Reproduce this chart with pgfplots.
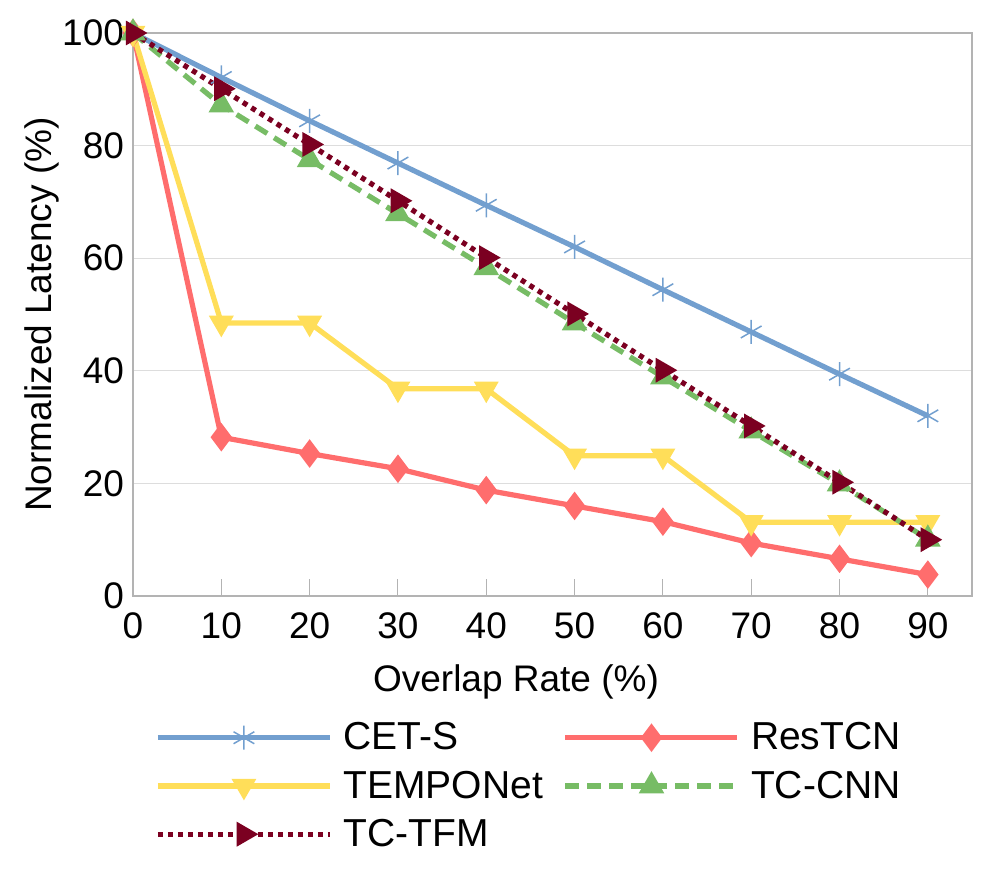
\documentclass[border=0pt]{standalone}
\usepackage{fontspec}
\setmainfont{Liberation Sans}
\usepackage{pgfplots}
\pgfplotsset{compat=1.18}
\definecolor{cets}{HTML}{729FCF}
\definecolor{restcn}{HTML}{FF6D6D}
\definecolor{tempo}{HTML}{FFDE59}
\definecolor{tccnn}{HTML}{77BC65}
\definecolor{tctfm}{HTML}{7B0021}
\definecolor{gridc}{HTML}{DDDDDD}
\definecolor{axc}{HTML}{B3B3B3}
\begin{document}
\begin{tikzpicture}
\useasboundingbox (-66.5pt,-145pt) rectangle (432pt,298pt);
\begin{axis}[
 at={(0,0)}, anchor=south west,
 scale only axis, width=419.5pt, height=281.5pt,
 xmin=0, xmax=95, ymin=0, ymax=100,
 xtick={0,10,...,90}, ytick={0,20,...,100},
 font=\fontsize{18.5}{22}\selectfont,
 /pgf/number format/assume math mode=true,
 ymajorgrids, grid style={gridc, line width=0.5pt},
 axis line style={axc, line width=0.75pt},
 xtick pos=left, tick align=inside, major tick length=8.5pt,
 xtick style={axc, line width=0.5pt},
 ytick style={draw=none},
 xticklabel style={yshift=-5pt},
 yticklabel style={xshift=-1pt},
 clip=false,
 xlabel={Overlap Rate (\%)}, ylabel={Normalized Latency (\%)},
 xlabel style={at={(axis description cs:0.4565,-0.152)}, anchor=center},
 ylabel style={at={(axis description cs:-0.108,0.5)}, anchor=center},
 legend columns=2,
 legend style={at={(axis description cs:0.019,-0.21)}, anchor=north west, draw=none, fill=none,
   font=\fontsize{19.5}{22}\selectfont, row sep=5pt,
   /tikz/every odd column/.append style={column sep=3.5pt},
   /tikz/every even column/.append style={column sep=8pt}},
 legend cell align=left,
 legend image code/.code={\draw[mark repeat=2,mark phase=2,#1] plot coordinates {(0pt,0pt)(43pt,0pt)(86pt,0pt)};},
]
\addplot[cets, line width=2.6pt, mark=asterisk, mark size=6pt, mark options={line width=0.75pt}]
 coordinates {(0,100)(10,92.1)(20,84.4)(30,76.9)(40,69.4)(50,62.0)(60,54.4)(70,46.9)(80,39.4)(90,32.0)};
\addlegendentry{CET-S}
\addplot[restcn, line width=2.6pt, mark=diamond*, mark size=5pt]
 coordinates {(0,100)(10,28.2)(20,25.3)(30,22.6)(40,18.8)(50,16.0)(60,13.2)(70,9.4)(80,6.6)(90,3.8)};
\addlegendentry{ResTCN}
\addplot[tempo, line width=2.6pt, mark=triangle*, mark size=4.6pt, mark options={rotate=180}]
 coordinates {(0,100)(10,48.5)(20,48.5)(30,36.8)(40,36.8)(50,24.9)(60,24.9)(70,13.1)(80,13.1)(90,13.1)};
\addlegendentry{TEMPONet}
\addplot[tccnn, line width=2.6pt, dash pattern=on 7pt off 4pt, mark=triangle*, mark size=4.8pt, mark options={solid}]
 coordinates {(0,100)(10,87.2)(20,77.5)(30,67.9)(40,58.3)(50,48.5)(60,38.9)(70,29.3)(80,19.9)(90,10.1)};
\addlegendentry{TC-CNN}
\addplot[tctfm, line width=2.6pt, dash pattern=on 2.5pt off 2.5pt, mark=triangle*, mark size=4.6pt, mark options={solid, rotate=-90}]
 coordinates {(0,100)(10,90.1)(20,80.2)(30,70.2)(40,60.1)(50,50.1)(60,40.1)(70,30.2)(80,20.2)(90,10.0)};
\addlegendentry{TC-TFM}
\end{axis}
\end{tikzpicture}
\end{document}
